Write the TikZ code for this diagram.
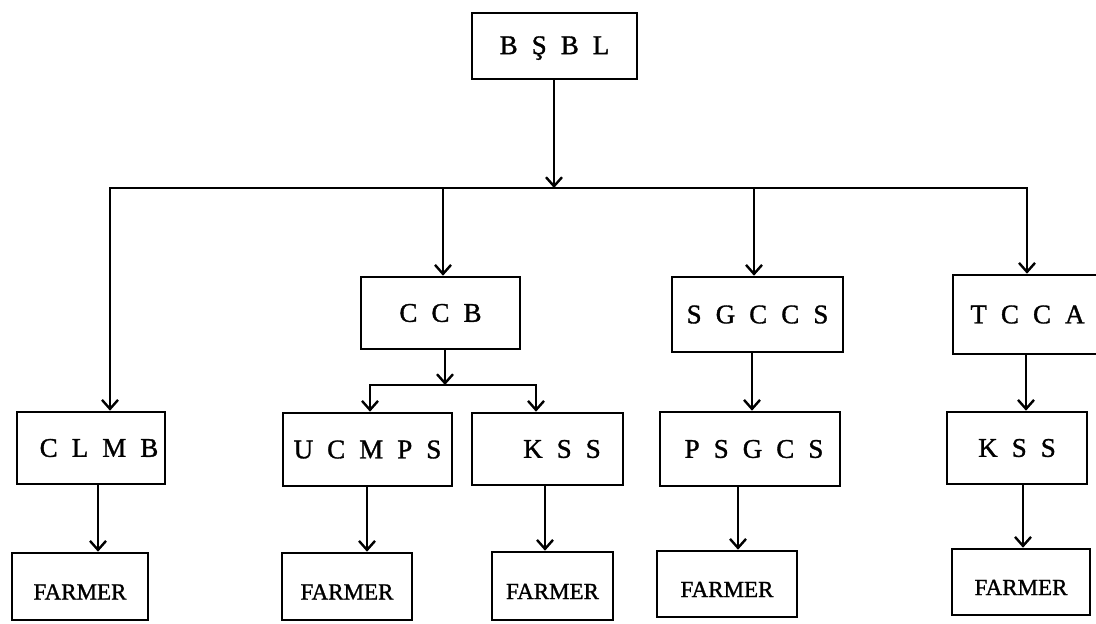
\documentclass[tikz,border=0pt]{standalone}
\usepackage{fontspec}
\setmainfont{Liberation Serif}[BoldFont={Liberation Serif},BoldFeatures={FakeBold=1.2}]
\usetikzlibrary{arrows.meta}
\newcommand{\tsp}{\hspace{0.52em}}
\begin{document}
\begin{tikzpicture}[x=0.5pt,y=-0.5pt,
  box/.style={draw,line width=1.3pt,inner sep=0pt,font=\fontsize{13.5}{15}\selectfont\bfseries},
  farmbox/.style={box,font=\fontsize{11.5}{13}\selectfont\bfseries},
  arr/.style={line width=1.2pt,line cap=rect,-{Straight Barb[length=4.5pt,width=8pt,line width=1.2pt]}},
  link/.style={line width=1.2pt,line cap=rect}]
\useasboundingbox (0,0) rectangle (1096,623);
% boxes
\node[box,minimum width=82.5pt,minimum height=33pt] (bsbl) at (554.5,46) {\rule{0pt}{11pt}B\tsp Ş\tsp B\tsp L};
\node[box,minimum width=79.5pt,minimum height=36pt] (ccb) at (440.5,313) {C\tsp C\tsp B};
\node[box,minimum width=85.5pt,minimum height=37.5pt] (sgccs) at (757.5,314.5) {S\tsp G\tsp C\tsp C\tsp S};
\node[box,minimum width=74.5pt,minimum height=39.5pt] (tcca) at (1027.5,314.5) {T\tsp C\tsp C\tsp A};
\node[box,minimum width=74pt,minimum height=36pt] (clmb) at (91,448) {\hspace{8pt}C\tsp L\tsp M\tsp B};
\node[box,minimum width=84.5pt,minimum height=36.5pt] (ucmps) at (367.5,449.5) {U\tsp C\tsp M\tsp P\tsp S};
\node[box,minimum width=75.5pt,minimum height=36pt] (kss1) at (547.5,449) {\hspace{14.5pt}K\tsp S\tsp S};
\node[box,minimum width=90pt,minimum height=37pt] (psgcs) at (750,449) {\hspace{4pt}P\tsp S\tsp G\tsp C\tsp S};
\node[box,minimum width=70pt,minimum height=36pt] (kss2) at (1017,448) {K\tsp S\tsp S\hspace{7pt}};
\node[farmbox,minimum width=68pt,minimum height=33.5pt] (farmer1) at (80,586.5) {\rule{0pt}{13pt}FARMER};
\node[farmbox,minimum width=65pt,minimum height=33.5pt] (farmer2) at (347,586.5) {\rule{0pt}{13pt}FARMER};
\node[farmbox,minimum width=60.5pt,minimum height=34pt] (farmer3) at (552.5,586) {\rule{0pt}{13pt}FARMER};
\node[farmbox,minimum width=70pt,minimum height=33pt] (farmer4) at (727,584) {\rule{0pt}{13pt}FARMER};
\node[farmbox,minimum width=69pt,minimum height=33pt] (farmer5) at (1021,582) {\rule{0pt}{13pt}FARMER};
% junction coordinates
\coordinate (jt) at (554,188);
\coordinate (tl) at (110,188);
\coordinate (tr) at (1027,188);
\coordinate (d2) at (443,188);
\coordinate (d3) at (754,188);
\coordinate (cb) at (445,385);
\coordinate (bl) at (370,385);
\coordinate (br) at (536,385);
\coordinate (x1) at (98,0);
\coordinate (x2) at (367,0);
\coordinate (x3) at (545,0);
\coordinate (x4) at (752,0);
\coordinate (x5) at (738,0);
\coordinate (x6) at (1026,0);
\coordinate (x7) at (1023,0);
% connectors
\draw[arr] (bsbl.south -| jt) -- (jt);
\draw[link] (tl) -- (tr);
\draw[arr] (tl) -- (clmb.north -| tl);
\draw[arr] (d2) -- (ccb.north -| d2);
\draw[arr] (d3) -- (sgccs.north -| d3);
\draw[arr] (tr) -- (tcca.north -| tr);
\draw[arr] (ccb.south -| cb) -- (cb);
\draw[link] (bl) -- (br);
\draw[arr] (bl) -- (ucmps.north -| bl);
\draw[arr] (br) -- (kss1.north -| br);
\draw[arr] (clmb.south -| x1) -- (farmer1.north -| x1);
\draw[arr] (ucmps.south -| x2) -- (farmer2.north -| x2);
\draw[arr] (kss1.south -| x3) -- (farmer3.north -| x3);
\draw[arr] (sgccs.south -| x4) -- (psgcs.north -| x4);
\draw[arr] (psgcs.south -| x5) -- (farmer4.north -| x5);
\draw[arr] (tcca.south -| x6) -- (kss2.north -| x6);
\draw[arr] (kss2.south -| x7) -- (farmer5.north -| x7);
\end{tikzpicture}
\end{document}
